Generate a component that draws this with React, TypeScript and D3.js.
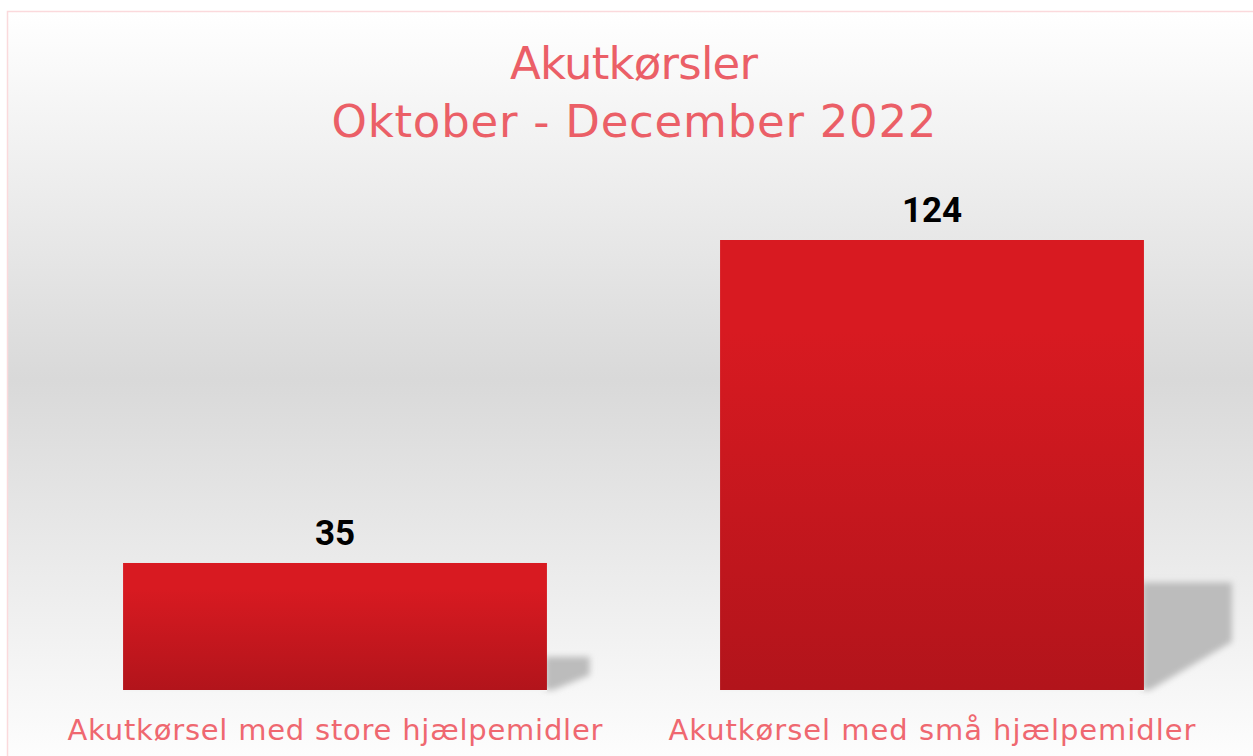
import React, { useRef, useEffect } from "react";
import * as d3 from "d3";

const titleLines = ["Akutkørsler", "Oktober - December 2022"];
const categories = ["Akutkørsel med store hjælpemidler", "Akutkørsel med små hjælpemidler"];
const values = [35, 124];

const W = 1253;
const H = 756;
const pink = "#eb5f67";

const App = () => {
  const svgRef = useRef<SVGSVGElement | null>(null);

  /* Draw bar chart */
  const drawChart = () => {
    const svg = d3.select(svgRef.current);
    svg.selectAll("*").remove();

    const defs = svg.append("defs");

    /* background gradient: white -> grey -> white */
    const bg = defs
      .append("linearGradient")
      .attr("id", "bg")
      .attr("x1", 0)
      .attr("y1", 0)
      .attr("x2", 0)
      .attr("y2", 1);
    bg.append("stop").attr("offset", "0%").attr("stop-color", "#ffffff");
    bg.append("stop").attr("offset", "48%").attr("stop-color", "#d9d9d9");
    bg.append("stop").attr("offset", "100%").attr("stop-color", "#ffffff");

    /* bar gradient */
    const bar = defs
      .append("linearGradient")
      .attr("id", "bar")
      .attr("x1", 0)
      .attr("y1", 0)
      .attr("x2", 0)
      .attr("y2", 1);
    bar.append("stop").attr("offset", "0%").attr("stop-color", "#d81a21");
    bar.append("stop").attr("offset", "20%").attr("stop-color", "#d81a21");
    bar.append("stop").attr("offset", "100%").attr("stop-color", "#b2141b");

    defs
      .append("filter")
      .attr("id", "blur")
      .attr("x", "-20%")
      .attr("y", "-20%")
      .attr("width", "140%")
      .attr("height", "140%")
      .append("feGaussianBlur")
      .attr("stdDeviation", 3);

    /* chart panel */
    svg
      .append("rect")
      .attr("x", 7.5)
      .attr("y", 11.5)
      .attr("width", W + 10)
      .attr("height", H + 10)
      .attr("fill", "url(#bg)")
      .attr("stroke", "#fbd9dc")
      .attr("stroke-width", 1.5);

    /* scales */
    const x = d3
      .scaleBand()
      .domain(categories)
      .range([36.5, 1230.5])
      .paddingInner(0.29)
      .paddingOuter(0.145);

    const y = d3.scaleLinear().domain([0, 124]).range([690, 240]);

    /* shadows */
    svg
      .selectAll(".shadow")
      .data(values)
      .enter()
      .append("path")
      .attr("class", "shadow")
      .attr("fill", "#bcbcbc")
      .attr("filter", "url(#blur)")
      .attr("d", (d, i) => {
        const x0 = (x(categories[i]) as number) + x.bandwidth();
        const h = y(0) - y(d);
        const dx = 25 + 0.14 * h;
        const dy = 4 + 0.23 * h;
        const b = y(0);
        return `M${x0 - 2},${b - dy} L${x0 + dx},${b - dy} L${x0 + dx},${b - dy * 0.45} L${x0 + 6},${b} L${x0 - 2},${b} Z`;
      });

    /* thin highlight under bars */
    svg
      .selectAll(".base")
      .data(values)
      .enter()
      .append("rect")
      .attr("x", (d, i) => x(categories[i]) as number)
      .attr("y", y(0))
      .attr("width", x.bandwidth())
      .attr("height", 1.5)
      .attr("fill", "#f4f4f4");

    /* bars */
    svg
      .selectAll(".bar")
      .data(values)
      .enter()
      .append("rect")
      .attr("class", "bar")
      .attr("x", (d, i) => x(categories[i]) as number)
      .attr("y", (d) => y(d))
      .attr("width", x.bandwidth())
      .attr("height", (d) => y(0) - y(d))
      .attr("fill", "url(#bar)");

    /* value labels */
    svg
      .selectAll(".val")
      .data(values)
      .enter()
      .append("text")
      .attr("x", (d, i) => (x(categories[i]) as number) + x.bandwidth() / 2)
      .attr("y", (d) => y(d) - 18)
      .attr("text-anchor", "middle")
      .style("font-family", "Roboto, sans-serif")
      .style("font-weight", "700")
      .style("font-size", "35px")
      .attr("fill", "#000")
      .text((d) => d);

    /* category labels */
    const catWidths = [535, 527];
    svg
      .selectAll(".cat")
      .data(categories)
      .enter()
      .append("text")
      .attr("x", (d) => (x(d) as number) + x.bandwidth() / 2)
      .attr("y", 740)
      .attr("text-anchor", "middle")
      .attr("textLength", (d, i) => catWidths[i])
      .attr("lengthAdjust", "spacing")
      .style("font-family", "'DejaVu Sans', sans-serif")
      .style("font-size", "29px")
      .attr("fill", "#ef6870")
      .text((d) => d);

    /* title */
    const titleWidths = [248, 605];
    svg
      .selectAll(".title")
      .data(titleLines)
      .enter()
      .append("text")
      .attr("x", 634)
      .attr("y", (d, i) => 79 + i * 58)
      .attr("text-anchor", "middle")
      .attr("textLength", (d, i) => titleWidths[i])
      .attr("lengthAdjust", "spacing")
      .style("font-family", "'DejaVu Sans', sans-serif")
      .style("font-size", "45px")
      .attr("fill", pink)
      .text((d) => d);
  };

  useEffect(() => {
    drawChart();
  }, []);

  return (
    <svg
      ref={svgRef}
      width={W}
      height={H}
      style={{ position: "absolute", left: 0, top: 0, background: "#fff" }}
    />
  );
};

export default App;
